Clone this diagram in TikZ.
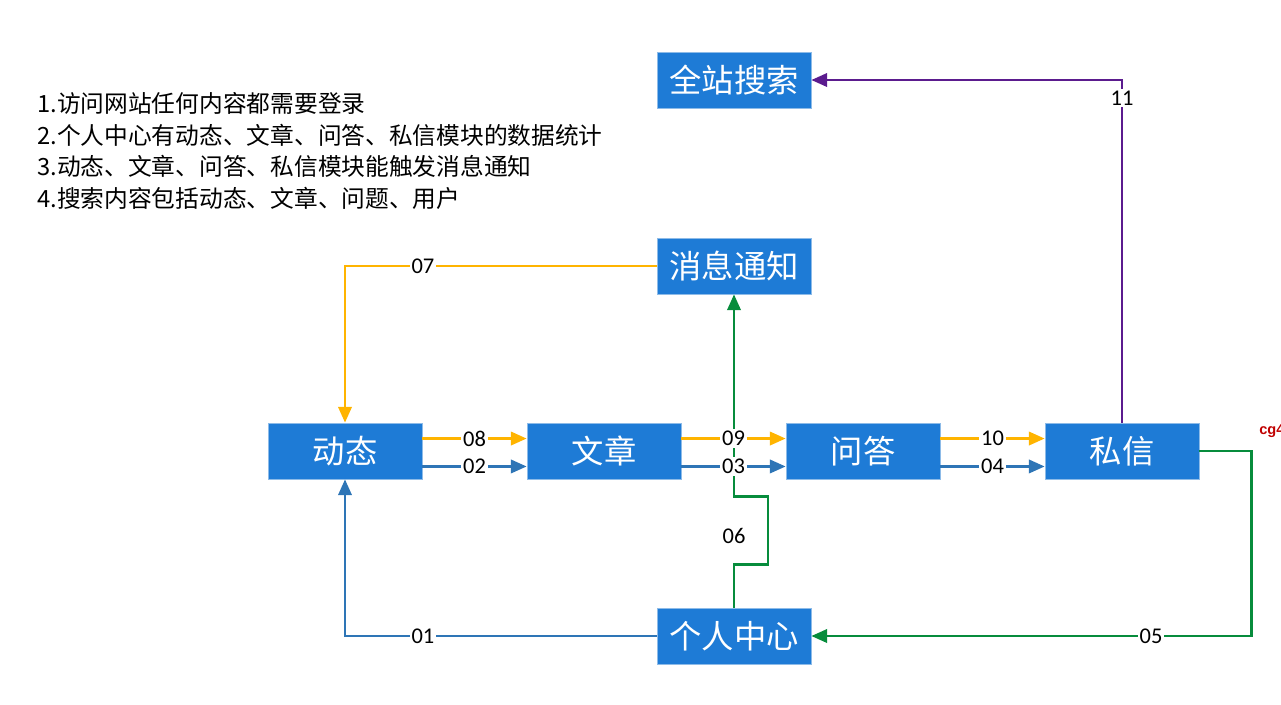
\documentclass[tikz,border=0pt]{standalone}
\usepackage{fontspec}
\setmainfont{Carlito}
\newfontfamily\cjk{Noto Sans CJK SC}
\newfontfamily\marksans{Liberation Sans}
\usepackage{xcolor}
\usetikzlibrary{arrows.meta}
\definecolor{boxblue}{HTML}{1E7BD6}
\definecolor{boxedge}{HTML}{8DBBE8}
\definecolor{lineorange}{HTML}{FFB400}
\definecolor{lineblue}{HTML}{2E75B6}
\definecolor{linegreen}{HTML}{078C3C}
\definecolor{linepurple}{HTML}{5B1B8E}
\definecolor{markred}{HTML}{C00000}

\begin{document}
\begin{tikzpicture}[x=0.02cm, y=-0.02cm,
	modbox/.style={rectangle, fill=boxblue, draw=boxedge, minimum width=3.08cm, minimum height=1.12cm, inner sep=0pt, text=white, font=\cjk\fontsize{18.4}{20}\selectfont},
	flow/.style={line width=1.5pt, -{Triangle[length=9pt,width=7.6pt]}},
	lbl/.style={fill=white, inner sep=1pt, text=black, font=\fontsize{12.8}{14}\selectfont}]
	\useasboundingbox (0,0) rectangle (1281,704);
	% notes
	\node[anchor=west, align=left, inner sep=0pt, font=\cjk\fontsize{13.5}{18.1}\selectfont] (notes) at (37,151) {1.访问网站任何内容都需要登录\\2.个人中心有动态、文章、问答、私信模块的数据统计\\3.动态、文章、问答、私信模块能触发消息通知\\4.搜索内容包括动态、文章、问题、用户};
	% modules
	\node[modbox] (qzss) at (734,80) {全站搜索};
	\node[modbox] (xxtz) at (734,266) {消息通知};
	\node[modbox] (dt) at (345,451) {动态};
	\node[modbox] (wz) at (604,451) {文章};
	\node[modbox] (wd) at (863,451) {问答};
	\node[modbox] (sx) at (1122,451) {私信};
	\node[modbox] (grzx) at (734,636) {个人中心};
	% green lines first (under labels)
	\draw[flow, linegreen] (grzx.north) -- ++(0,-43) -- ++(34,0) -- ++(0,-68) -- ++(-34,0) -- (xxtz.south);
	\node[lbl, fill=none] (n06) at (734,536) {06};
	\draw[flow, linegreen] (sx.east) -- ++(52,0) |- node[lbl, pos=0.614] {05} (grzx.east);
	% between modules
	\draw[flow, lineorange] ([yshift=7.1pt]dt.east) -- node[lbl] {08} ([yshift=7.1pt]wz.west);
	\draw[flow, lineblue] ([yshift=-8.8pt]dt.east) -- node[lbl] {02} ([yshift=-8.8pt]wz.west);
	\draw[flow, lineorange] ([yshift=7.1pt]wz.east) -- node[lbl] {09} ([yshift=7.1pt]wd.west);
	\draw[flow, lineblue] ([yshift=-8.8pt]wz.east) -- node[lbl] {03} ([yshift=-8.8pt]wd.west);
	\draw[flow, lineorange] ([yshift=7.1pt]wd.east) -- node[lbl] {10} ([yshift=7.1pt]sx.west);
	\draw[flow, lineblue] ([yshift=-8.8pt]wd.east) -- node[lbl] {04} ([yshift=-8.8pt]sx.west);
	% outer loops
	\draw[flow, lineorange] (xxtz.west) -| node[lbl, pos=0.375] {07} (dt.north);
	\draw[flow, lineblue] (grzx.west) -| node[lbl, pos=0.375] {01} (dt.south);
	\draw[flow, linepurple] (sx.north) |- node[lbl, pos=0.474] {11} (qzss.east);
	% cut-off mark at the right edge
	\node[anchor=west, inner sep=0pt, text=markred, font=\marksans\bfseries\fontsize{8.3}{10}\selectfont] (mark) at (1259,431) {cg4};
\end{tikzpicture}
\end{document}
